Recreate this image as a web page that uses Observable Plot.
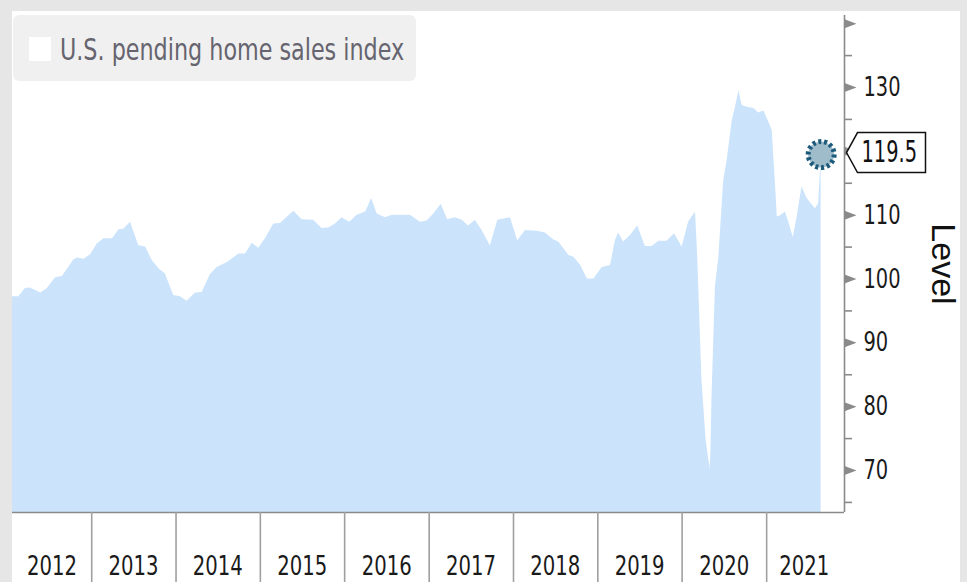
<!DOCTYPE html>
<html>
<head>
<meta charset="utf-8">
<script src="https://cdn.jsdelivr.net/npm/d3@7"></script>
<script src="https://cdn.jsdelivr.net/npm/@observablehq/plot@0.6"></script>
<style>
  html, body { margin: 0; padding: 0; }
  body { width: 967px; height: 582px; background: #e6e6e6; position: relative; overflow: hidden; }
  #panel { position: absolute; left: 12px; top: 11px; width: 948px; height: 571px; background: #ffffff; }
  #chart { position: absolute; left: 0; top: 0; }
  #legend { position: absolute; left: 1px; top: 4px; width: 403px; height: 66px; background: #f0f0f0; border-radius: 6px; z-index: 2; }
  #legend .sw { position: absolute; left: 16px; top: 22px; width: 22px; height: 24px; background: #ffffff; }
  #legend .lbl { position: absolute; left: 47px; top: 20px; line-height: 30px; font-size: 30px; color: #66646f;
    font-family: "DejaVu Sans Condensed", "DejaVu Sans", sans-serif; font-stretch: condensed; white-space: nowrap;
    transform: scaleX(0.825); transform-origin: 0 50%; }
</style>
</head>
<body>
<div id="panel">
  <div id="chart"></div>
  <div id="legend"><span class="sw"></span><span class="lbl">U.S. pending home sales index</span></div>
</div>
<script>
// ---- data ----
const dates = [
  "2012-01-24","2012-02-20","2012-03-20","2012-04-11","2012-05-25","2012-06-23","2012-07-28","2012-08-27",
  "2012-10-16","2012-10-31","2012-11-29","2012-12-27","2013-01-25","2013-02-23","2013-04-01","2013-04-29",
  "2013-05-20","2013-06-18","2013-07-24","2013-08-22","2013-09-20","2013-10-19","2013-11-16","2013-12-22",
  "2014-01-20","2014-02-18","2014-03-26","2014-04-24","2014-05-30","2014-06-28","2014-08-11","2014-09-30",
  "2014-10-29","2014-11-27","2014-12-25","2015-01-23","2015-02-28","2015-03-29","2015-05-26","2015-07-01",
  "2015-08-20","2015-09-25","2015-10-24","2015-11-22","2015-12-21","2016-01-23","2016-02-24","2016-04-01",
  "2016-04-27","2016-05-21","2016-06-26","2016-07-25","2016-10-12","2016-11-24","2016-12-23","2017-01-21",
  "2017-02-22","2017-03-22","2017-04-24","2017-05-24","2017-06-21","2017-07-20","2017-08-18","2017-09-23",
  "2017-10-25","2017-12-19","2018-01-19","2018-02-22","2018-04-14","2018-05-19","2018-06-25","2018-07-16",
  "2018-08-29","2018-09-20","2018-10-19","2018-11-17","2018-12-15","2019-01-20","2019-02-25","2019-03-18",
  "2019-04-01","2019-04-23","2019-05-22","2019-06-23","2019-07-26","2019-08-24","2019-09-22","2019-10-28",
  "2019-11-29","2020-01-01","2020-01-29","2020-02-28","2020-03-08","2020-03-27","2020-04-14","2020-05-01",
  "2020-05-05","2020-05-09","2020-05-17","2020-05-24","2020-06-08","2020-06-29","2020-07-14","2020-08-05",
  "2020-08-19","2020-09-03","2020-09-17","2020-10-09","2020-11-07","2020-11-28","2020-12-20","2021-01-10",
  "2021-01-25","2021-02-01","2021-02-09","2021-02-16","2021-03-02","2021-03-23","2021-04-07","2021-04-26",
  "2021-05-13","2021-06-03","2021-06-25","2021-07-31","2021-08-14","2021-08-22","2021-08-25"
];
const values = [
  97.2, 97.2, 98.5, 98.6, 97.8, 98.5, 100.2, 100.4,
  103.0, 103.3, 103.1, 103.8, 105.5, 106.3, 106.3, 107.7,
  107.8, 108.9, 105.2, 105.0, 102.9, 101.6, 100.8, 97.4,
  97.2, 96.5, 97.8, 97.9, 100.7, 101.8, 102.6, 103.9,
  103.9, 105.6, 104.8, 106.3, 108.6, 108.7, 110.6, 109.3,
  109.2, 107.9, 108.0, 108.6, 109.6, 108.9, 110.0, 110.5,
  112.6, 110.2, 109.6, 110.0, 110.0, 108.9, 109.1, 110.2,
  111.7, 109.3, 109.6, 109.2, 108.3, 109.2, 107.6, 105.2,
  109.2, 109.6, 106.0, 107.6, 107.5, 107.2, 106.1, 105.8,
  103.7, 103.4, 102.1, 100.0, 100.0, 101.8, 102.1, 106.0,
  107.2, 105.8, 106.8, 108.3, 105.1, 105.1, 105.9, 105.9,
  107.1, 105.0, 108.9, 110.5, 104.0, 84.1, 74.7, 70.3,
  73.1, 81.0, 90.4, 98.7, 103.4, 115.4, 118.6, 124.8,
  126.9, 129.5, 127.2, 126.9, 126.7, 126.0, 126.3, 124.6,
  123.3, 119.1, 114.4, 109.7, 109.9, 110.5, 108.9, 106.5,
  109.7, 114.4, 112.6, 111.0, 111.8, 117.0, 119.5
];
const seriesName = "U.S. pending home sales index";
const yearBoundaries = ["2013-01-01","2014-01-01","2015-01-01","2016-01-01","2017-01-01","2018-01-01","2019-01-01","2020-01-01","2021-01-01"];
const yearLabelDates = ["2012-07-13","2013-07-01","2014-07-01","2015-07-01","2016-07-01","2017-07-01","2018-07-01","2019-07-01","2020-07-01","2021-06-13"];
const labelTicks = [70, 80, 90, 100, 110, 130];
const arrowTicks = [70, 80, 90, 100, 110, 120, 130, 140];
const minorTicks = [65, 75, 85, 95, 105, 115, 125, 135];
const xDomain = ["2012-01-24", "2021-12-04"];
const yDomain = [63.42, 141.28];
const axisTitle = "Level";

// ---- build ----
const data = dates.map((d, i) => ({date: new Date(d), value: values[i]}));
const last = data[data.length - 1];

const arrowSymbol = {draw(ctx) { ctx.moveTo(0, -4.5); ctx.lineTo(12, 0); ctx.lineTo(0, 4.5); ctx.closePath(); }};
const tagSymbol = {draw(ctx) { ctx.moveTo(0, 0); ctx.lineTo(11, -20); ctx.lineTo(79, -20); ctx.lineTo(79, 20); ctx.lineTo(11, 20); ctx.closePath(); }};

const condensed = "'DejaVu Sans Condensed', 'DejaVu Sans', sans-serif";

const chart = Plot.plot({
  width: 948,
  height: 571,
  marginLeft: 0,
  marginRight: 116,
  marginTop: 4,
  marginBottom: 70,
  style: {fontFamily: condensed, background: "transparent", color: "#1a1a1a", overflow: "visible"},
  x: {type: "utc", domain: xDomain.map(d => new Date(d))},
  y: {domain: yDomain},
  marks: [
    Plot.areaY(data, {x: "date", y: "value", fill: "#cbe4fc", clip: true}),
    // axis lines
    Plot.ruleY([yDomain[0]], {stroke: "#8a8a8a", strokeWidth: 1.6}),
    Plot.ruleX([new Date(xDomain[1])], {stroke: "#8a8a8a", strokeWidth: 1.6}),
    // year separators
    Plot.axisX(yearBoundaries.map(d => new Date(d)), {tickSize: 72, tickFormat: () => "", stroke: "#a0a0a0", strokeWidth: 1.6, label: null}),
    // year labels
    Plot.axisX(yearLabelDates.map(d => new Date(d)), {tickSize: 0, tickPadding: 44, tickFormat: "%Y", fontSize: 26, fill: "#1a1a1a", label: null, className: "sq-year"}),
    // right axis minor ticks
    Plot.axisY(minorTicks, {anchor: "right", tickSize: 7, tickFormat: () => "", stroke: "#8a8a8a", strokeWidth: 1.6, label: null}),
    // right axis arrow ticks
    Plot.dot(arrowTicks, {y: d => d, frameAnchor: "right", symbol: arrowSymbol, fill: "#8a8a8a", r: 3}),
    // right axis labels
    Plot.axisY(labelTicks, {anchor: "right", tickSize: 0, tickPadding: 19, fontSize: 27, fill: "#1a1a1a", label: null, className: "sq-ylab"}),
    // last-value marker
    Plot.dot([last], {x: "date", y: "value", r: 13, fill: "#9fbccb", stroke: "#1b5a7a", strokeWidth: 5, strokeDasharray: "3,2.8"}),
    // last-value tag
    Plot.dot([last], {y: "value", frameAnchor: "right", symbol: tagSymbol, fill: "white", stroke: "#111", strokeWidth: 1.5, dx: 2, dy: -2, r: 3}),
    Plot.text([last], {y: "value", text: d => d.value.toFixed(1), frameAnchor: "right", textAnchor: "start", dx: 17, dy: -2, fontSize: 30, fill: "#111", className: "sq-tag"}),
    // axis title
    Plot.text([axisTitle], {text: d => d, frameAnchor: "right", textAnchor: "middle", rotate: 90, dx: 98, fontSize: 34, fontFamily: "'Liberation Sans', sans-serif", fill: "#111"})
  ]
});

// narrow the glyphs to mimic the reference's tall condensed face
function squeeze(selector, k) {
  chart.querySelectorAll(selector + " text").forEach(t => {
    const tr = t.getAttribute("transform");
    if (tr && tr.includes("translate")) t.setAttribute("transform", tr + ` scale(${k},1)`);
  });
}
squeeze(".sq-year", 0.84);
squeeze(".sq-ylab", 0.8);
squeeze(".sq-tag", 0.72);

document.getElementById("chart").appendChild(chart);
</script>
</body>
</html>
